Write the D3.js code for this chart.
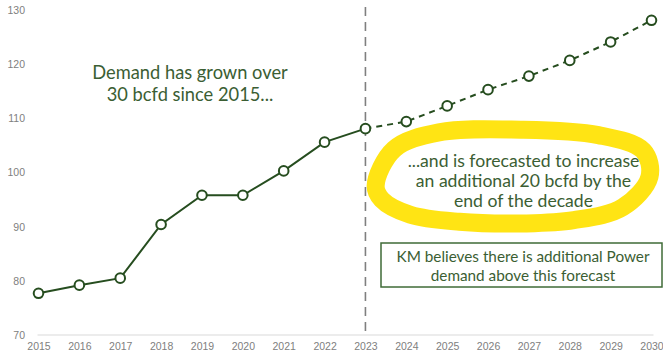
<!DOCTYPE html>
<html>
<head>
<meta charset="utf-8">
<script src="https://cdn.jsdelivr.net/npm/d3@7"></script>
<style>
  body { margin: 0; background: #fff; }
  svg { display: block; }
</style>
</head>
<body>
<div id="chart"></div>
<script>
// data (bcfd)
var years = [2015, 2016, 2017, 2018, 2019, 2020, 2021, 2022, 2023, 2024, 2025, 2026, 2027, 2028, 2029, 2030];
var actualYears = [2015, 2016, 2017, 2018, 2019, 2020, 2021, 2022, 2023];
var actualValues = [77.7, 79.2, 80.5, 90.4, 95.8, 95.8, 100.3, 105.6, 108.1];
var forecastYears = [2023, 2024, 2025, 2026, 2027, 2028, 2029, 2030];
var forecastValues = [108.1, 109.4, 112.3, 115.3, 117.8, 120.7, 124.1, 128.1];
var yTicks = [70, 80, 90, 100, 110, 120, 130];
var splitYear = 2023;

// hand drawn highlight, in (year, value) units
var highlightPts = [
    [2023.25, 97.5], [2023.7, 104.3], [2024.8, 107.4], [2026.8, 107.9], [2028.7, 106.9],
    [2029.8, 104.0], [2029.95, 99.2], [2029.3, 93.6], [2028.1, 91.2], [2026.9, 90.6],
    [2025.3, 90.9], [2024.1, 92.2], [2023.4, 95.0]
];

var width = 663, height = 358;
var green = "#264d1f", textGreen = "#3b5e33";

var svg = d3.select("#chart").append("svg")
    .attr("width", width)
    .attr("height", height);

var x = d3.scaleLinear().domain([2015, 2030]).range([38.5, 651.5]);
var y = d3.scaleLinear().domain([70, 130]).range([335, 10]);

// baseline
svg.append("line")
    .attr("x1", x(2015) - 1).attr("x2", x(2030) + 2)
    .attr("y1", y(70)).attr("y2", y(70))
    .attr("stroke", "#d9d9d9").attr("stroke-width", 1);

// y axis labels
var yAxis = d3.axisLeft(y).tickValues(yTicks).tickSize(0).tickPadding(0);
svg.append("g")
    .attr("transform", "translate(25,0)")
    .call(yAxis)
    .call(function(g) { g.select(".domain").remove(); })
    .selectAll("text")
    .attr("fill", "#808080")
    .attr("font-family", "Liberation Sans, Arial, sans-serif")
    .attr("font-size", 10.5);

// x axis labels
var xAxis = d3.axisBottom(x).tickValues(years).tickFormat(d3.format("d")).tickSize(0).tickPadding(0);
svg.append("g")
    .attr("transform", "translate(0," + (y(70) + 8) + ")")
    .call(xAxis)
    .call(function(g) { g.select(".domain").remove(); })
    .selectAll("text")
    .attr("fill", "#808080")
    .attr("font-family", "Liberation Sans, Arial, sans-serif")
    .attr("font-size", 10.5);

// highlighter
svg.append("path")
    .datum(highlightPts)
    .attr("d", d3.line()
        .x(function(d) { return x(d[0]); })
        .y(function(d) { return y(d[1]); })
        .curve(d3.curveCatmullRomClosed))
    .attr("fill", "none")
    .attr("stroke", "#ffe414")
    .attr("stroke-width", 18)
    .attr("stroke-linejoin", "round");

// split line
svg.append("line")
    .attr("x1", x(splitYear)).attr("x2", x(splitYear))
    .attr("y1", 7).attr("y2", y(70))
    .attr("stroke", "#7f7f7f").attr("stroke-width", 1.6)
    .attr("stroke-dasharray", "9,6");

var line = d3.line()
    .x(function(d) { return x(d[0]); })
    .y(function(d) { return y(d[1]); });

var actual = d3.zip(actualYears, actualValues);
var forecast = d3.zip(forecastYears, forecastValues);

svg.append("path")
    .datum(actual)
    .attr("d", line)
    .attr("fill", "none").attr("stroke", green).attr("stroke-width", 2);

svg.append("path")
    .datum(forecast)
    .attr("d", line)
    .attr("fill", "none").attr("stroke", green).attr("stroke-width", 2)
    .attr("stroke-dasharray", "6,5");

svg.selectAll("circle.pt")
    .data(actual.concat(forecast.slice(1)))
    .enter().append("circle")
    .attr("class", "pt")
    .attr("cx", function(d) { return x(d[0]); })
    .attr("cy", function(d) { return y(d[1]); })
    .attr("r", 4.8)
    .attr("fill", "#fff").attr("stroke", green).attr("stroke-width", 2);

// annotations
function lines(cx, cy, arr, size, lh) {
    svg.append("text")
        .attr("font-family", "Lato, sans-serif")
        .attr("font-size", size)
        .attr("fill", textGreen)
        .attr("text-anchor", "middle")
        .selectAll("tspan")
        .data(arr)
        .enter().append("tspan")
        .attr("x", cx)
        .attr("y", function(d, i) { return cy + i * lh; })
        .text(function(d) { return d; });
}

lines(190, 79, ["Demand has grown over", "30 bcfd since 2015..."], 18.3, 21.5);
lines(523.5, 167, ["...and is forecasted to increase", "an additional 20 bcfd by the", "end of the decade"], 17.6, 20);

svg.append("rect")
    .attr("x", 381).attr("y", 243)
    .attr("width", 281).attr("height", 44)
    .attr("fill", "#fff")
    .attr("stroke", "#3f6b37").attr("stroke-width", 1.5);

lines(523, 262, ["KM believes there is additional Power", "demand above this forecast"], 15.3, 19);
</script>
</body>
</html>
